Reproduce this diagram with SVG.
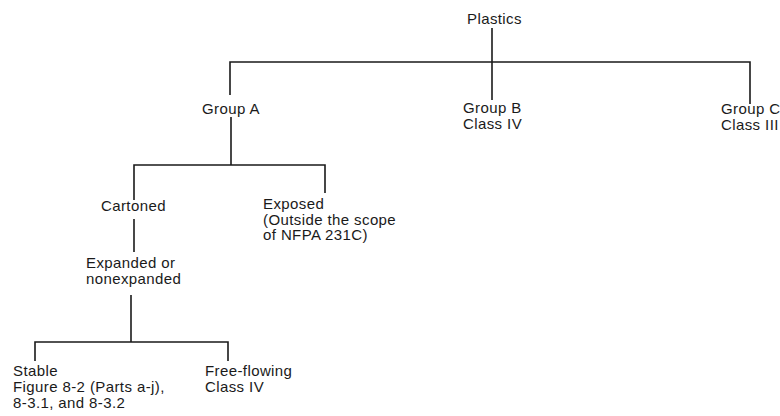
<svg xmlns="http://www.w3.org/2000/svg" width="780" height="416" viewBox="0 0 780 416">
<style>
text{font-family:"Liberation Sans",Arial,sans-serif;font-size:15px;letter-spacing:0.4px;fill:#1a1a1a}
.c{fill:none;stroke:#1a1a1a;stroke-width:1.6}
</style>
<rect width="780" height="416" fill="#ffffff"/>
<g id="connectors">
<path class="c" d="M492,28 V100"/>
<path class="c" d="M230,95 V62 H750 V104"/>
<path class="c" d="M231,117 V165"/>
<path class="c" d="M134,200 V165 H325 V193"/>
<path class="c" d="M134,219 V252"/>
<path class="c" d="M131,295 V342"/>
<path class="c" d="M35,361 V342 H228 V361"/>
</g>
<g id="plastics"><text x="467" y="24">Plastics</text></g>
<g id="groupA"><text x="202" y="114">Group A</text></g>
<g id="groupB"><text x="463" y="113">Group B</text><text x="463" y="129">Class IV</text></g>
<g id="groupC"><text x="721" y="114">Group C</text><text x="721" y="130">Class III</text></g>
<g id="cartoned"><text x="101" y="211">Cartoned</text></g>
<g id="exposed"><text x="263" y="209">Exposed</text><text x="263" y="224.5">(Outside the scope</text><text x="263" y="240">of NFPA 231C)</text></g>
<g id="expanded"><text x="86" y="268">Expanded or</text><text x="86" y="284">nonexpanded</text></g>
<g id="stable"><text x="13" y="376">Stable</text><text x="13" y="392">Figure 8-2 (Parts a-j),</text><text x="13" y="408">8-3.1, and 8-3.2</text></g>
<g id="freeflowing"><text x="205" y="376">Free-flowing</text><text x="205" y="392">Class IV</text></g>
</svg>
